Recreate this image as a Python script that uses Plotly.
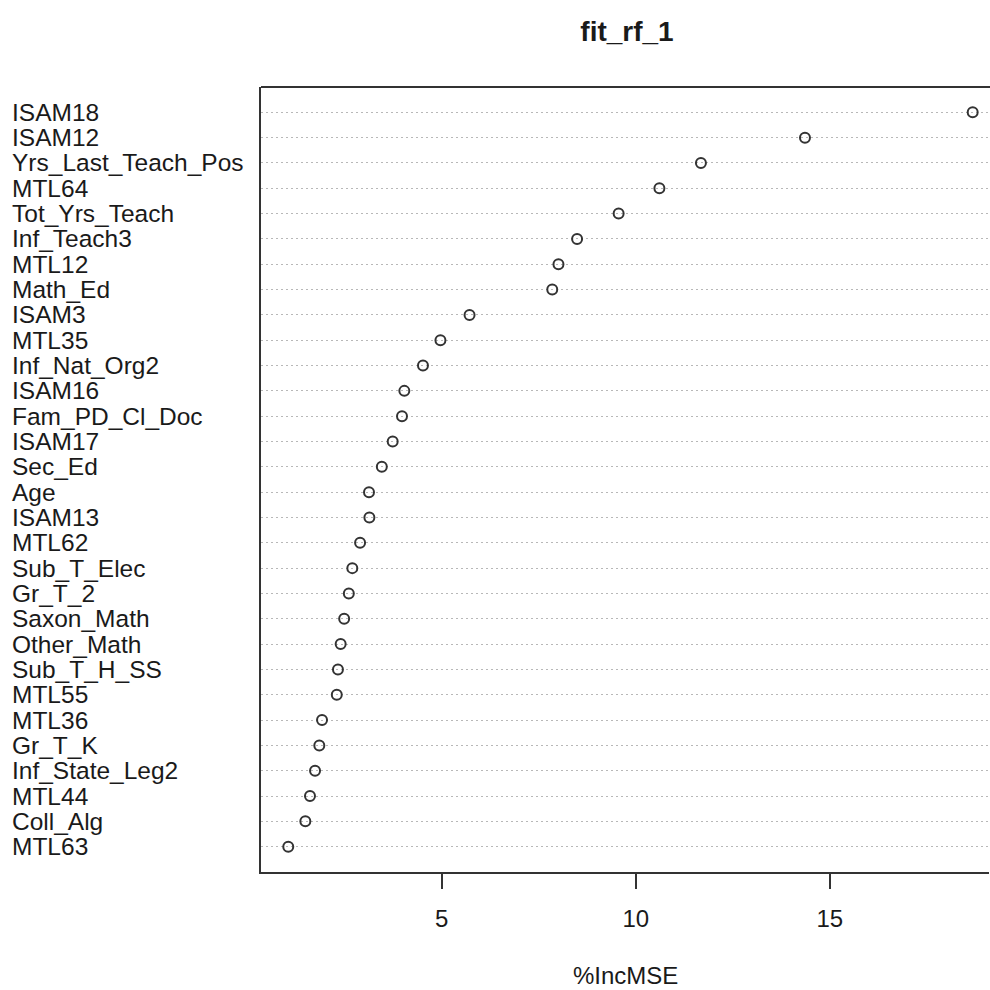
import plotly.graph_objects as go

# Variables, top to bottom as shown
variables = ["ISAM18", "ISAM12", "Yrs_Last_Teach_Pos", "MTL64", "Tot_Yrs_Teach",
             "Inf_Teach3", "MTL12", "Math_Ed", "ISAM3", "MTL35", "Inf_Nat_Org2",
             "ISAM16", "Fam_PD_Cl_Doc", "ISAM17", "Sec_Ed", "Age", "ISAM13",
             "MTL62", "Sub_T_Elec", "Gr_T_2", "Saxon_Math", "Other_Math",
             "Sub_T_H_SS", "MTL55", "MTL36", "Gr_T_K", "Inf_State_Leg2", "MTL44",
             "Coll_Alg", "MTL63"]
inc_mse = [18.68, 14.36, 11.68, 10.61, 9.56,
           8.49, 8.01, 7.85, 5.72, 4.97, 4.52,
           4.04, 3.98, 3.74, 3.46, 3.13, 3.14,
           2.90, 2.70, 2.61, 2.49, 2.40,
           2.33, 2.30, 1.92, 1.85, 1.74, 1.61,
           1.49, 1.05]
x_ticks = [5, 10, 15]
title_text = "fit_rf_1"
x_title = "%IncMSE"

# plot bottom-to-top order
cats = variables[::-1]
vals = inc_mse[::-1]

W, H = 990, 990
L, R, T, B = 261, 1, 87, 118
plot_w = W - L - R
plot_h = H - T - B

fig = go.Figure()
fig.add_trace(go.Scatter(
    x=vals, y=cats, mode="markers",
    marker=dict(symbol="circle-open", size=10, color="#333333",
                line=dict(width=2, color="#333333")),
    showlegend=False, hoverinfo="x+y"))

font_family = "Liberation Sans, Arial, sans-serif"

annotations = []
for c in cats:
    annotations.append(dict(
        x=(10 - L) / plot_w, xref="paper", y=c, yref="y",
        text=c, showarrow=False, xanchor="left", yanchor="middle",
        font=dict(family=font_family, size=24.5, color="#1a1a1a")))
annotations.append(dict(
    x=0.5, xref="paper", y=-(975 - (H - B)) / plot_h, yref="paper",
    text=x_title, showarrow=False, xanchor="center", yanchor="middle",
    font=dict(family=font_family, size=24, color="#1a1a1a")))

fig.update_layout(
    width=W, height=H,
    margin=dict(l=L, r=R, t=T, b=B),
    paper_bgcolor="white", plot_bgcolor="white",
    title=dict(text="<b>" + title_text + "</b>", x=627 / W, xanchor="center",
               y=1 - 31 / H, yanchor="middle",
               font=dict(family=font_family, size=28, color="#1a1a1a")),
    xaxis=dict(range=[0.348, 19.10], tickvals=x_ticks, ticks="outside",
               ticklen=15, tickwidth=2, tickcolor="#333333",
               showline=True, linecolor="#333333", linewidth=2,
               showgrid=False, zeroline=False, ticklabelstandoff=9,
               tickfont=dict(family=font_family, size=24, color="#1a1a1a")),
    yaxis=dict(type="category", categoryorder="array", categoryarray=cats,
               range=[-1, len(cats)], showticklabels=False, ticks="",
               showline=True, linecolor="#333333", linewidth=2,
               showgrid=True, gridcolor="#b8b8b8", gridwidth=1,
               griddash="2px,3px", zeroline=False),
    annotations=annotations,
    shapes=[dict(type="line", xref="paper", yref="paper", x0=0, x1=1.01,
                 y0=1, y1=1, line=dict(color="#333333", width=2))],
)

fig.write_html("out.html")
